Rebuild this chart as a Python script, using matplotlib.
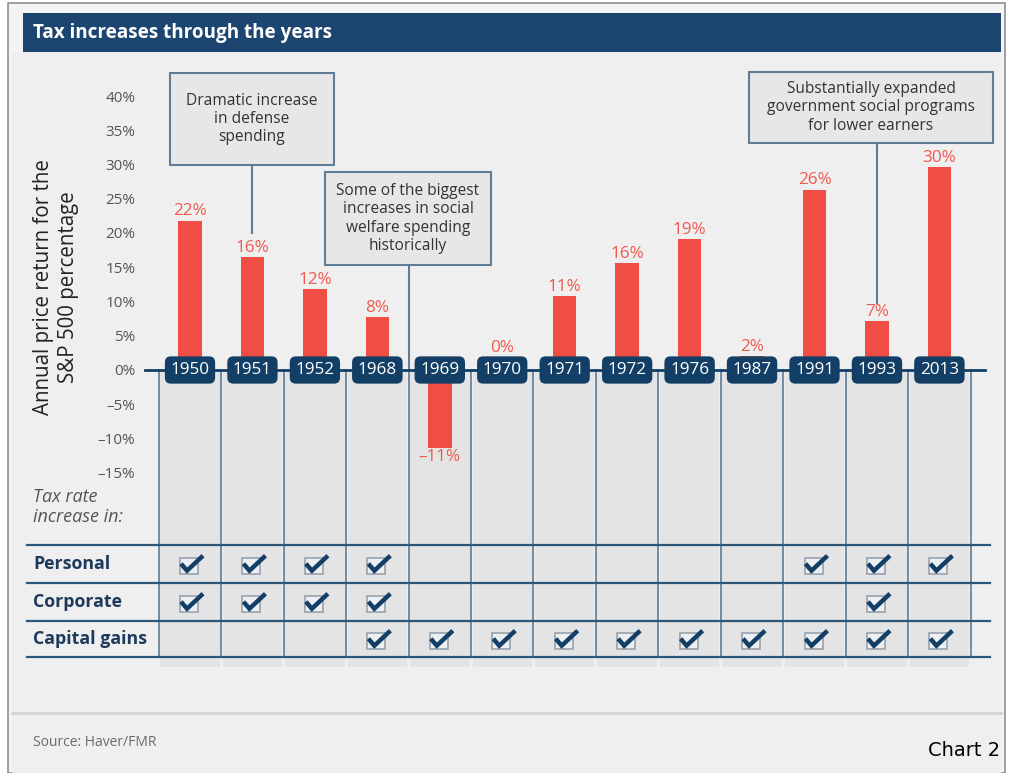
# Tax increases through the years - S&P 500 returns and tax rate changes

import matplotlib.pyplot as plt
from matplotlib.patches import Rectangle

plt.rcParams['font.family'] = ['Open Sans', 'DejaVu Sans']

# data
years = ["1950", "1951", "1952", "1968", "1969", "1970", "1971",
         "1972", "1976", "1987", "1991", "1993", "2013"]
returns = [21.8, 16.5, 11.8, 7.7, -11.4, 0.1, 10.8, 15.6, 19.1, 2.0, 26.3, 7.1, 29.6]
return_labels = ["22%", "16%", "12%", "8%", "\u201311%", "0%", "11%",
                 "16%", "19%", "2%", "26%", "7%", "30%"]
yticks = [-15, -10, -5, 0, 5, 10, 15, 20, 25, 30, 35, 40]
row_names = ["Personal", "Corporate", "Capital gains"]
personal = [1, 1, 1, 1, 0, 0, 0, 0, 0, 0, 1, 1, 1]
corporate = [1, 1, 1, 1, 0, 0, 0, 0, 0, 0, 0, 1, 0]
capital_gains = [0, 0, 0, 1, 1, 1, 1, 1, 1, 1, 1, 1, 1]

# colours
navy = "#133f66"
header_blue = "#1c4570"
red = "#f04e45"
red_text = "#ef5a4f"
slate = "#5f7d98"
grid_line = "#2b5679"
col_gray = "#e4e4e4"
panel = "#efefef"

# size of one pixel in data units (x: column index, y: percent)
PX = 1 / 62.45
PY = 1 / 6.85

fig = plt.figure(figsize=(10.13, 7.73), dpi=100)
fig.patch.set_facecolor("white")

# outer frame, panel, header, footer (kept behind the axes)
fig.patches.append(Rectangle((8 / 1013, 0), 997 / 1013, 1 - 3 / 773, transform=fig.transFigure,
                             fc="#f4f4f4", ec="#8f8f8f", lw=1.2, zorder=-10))
fig.patches.append(Rectangle((12 / 1013, 0), 989 / 1013, 1 - 52 / 773, transform=fig.transFigure,
                             fc=panel, ec="none", zorder=-9))
fig.patches.append(Rectangle((23 / 1013, 1 - 52 / 773), 978 / 1013, 39 / 773, transform=fig.transFigure,
                             fc=header_blue, ec="none", zorder=-9))
fig.text(33 / 1013, 1 - 33 / 773, "Tax increases through the years", color="white",
         fontsize=13.6, fontweight="bold", va="center")
fig.lines.append(plt.Line2D([12 / 1013, 1001 / 1013], [1 - 713 / 773, 1 - 713 / 773],
                            transform=fig.transFigure, color="#d2d2d2", lw=2, zorder=-8))
fig.text(33 / 1013, 1 - 742 / 773, "Source: Haver/FMR", color="#6a6a6a", fontsize=10, va="center")
fig.text(1000 / 1013, 1 - 751 / 773, "Chart 2", color="black", fontsize=14, ha="right", va="center",
         family=["Liberation Sans Narrow", "DejaVu Sans"])

ax = fig.add_axes([145 / 1013, 73 / 773, 856 / 1013, 640 / 773])
ax.set_facecolor("none")
for s in ax.spines.values():
    s.set_visible(False)
n = len(years)
x = list(range(n))
ax.set_xlim(-45 * PX, 811 * PX)
ax.set_ylim(-(700 - 370) * PY, (370 - 60) * PY)

# table geometry (percent units)
table_lines = [-25.5, -31.05, -36.6, -41.85]
col_bottom = -43.4

# column backgrounds and separators
for i in x:
    ax.add_patch(Rectangle((i - 0.5 + 1.5 * PX, col_bottom), 1 - 3 * PX, -col_bottom,
                           fc=col_gray, ec="none", zorder=1))
for i in range(n + 1):
    ax.plot([i - 0.5, i - 0.5], [0, table_lines[-1]], color="#6f8ba4", lw=1.4, zorder=2)
for yl in table_lines:
    ax.plot([-163 * PX, 800 * PX], [yl, yl], color=grid_line, lw=1.6, zorder=2, clip_on=False)

# bars
ax.bar(x, returns, width=0.375, color=red, zorder=3)
box_top = 13 * PY
for i, (v, lab) in enumerate(zip(returns, return_labels)):
    if v >= 0:
        ax.annotate(lab, (i, max(v, box_top)), xytext=(0, 1), textcoords="offset points",
                    ha="center", va="bottom", color=red_text, fontsize=12.3, zorder=4)
    else:
        ax.annotate(lab, (i, v), xytext=(0, -1), textcoords="offset points", ha="center",
                    va="top", color=red_text, fontsize=12.3, zorder=4)

# zero line and year markers
ax.plot([-45 * PX, 795 * PX], [0, 0], color=navy, lw=2, zorder=4, clip_on=False)
for i, yr in enumerate(years):
    ax.text(i, 0, yr, ha="center", va="center", color="white", fontsize=12.3, zorder=6,
            bbox=dict(boxstyle="round,pad=0.33,rounding_size=0.35", fc=navy, ec="none"))

# y axis
ax.set_yticks(yticks)
ax.set_yticklabels([f"{t}%".replace("-", "\u2013") for t in yticks])
ax.tick_params(axis="y", length=0, pad=7, labelsize=11, labelcolor="#555555")
ax.set_xticks([])
ax.set_ylabel("Annual price return for the\nS&P 500 percentage", fontsize=14.8, color="#222222",
              va="center", linespacing=1.3)
ax.yaxis.set_label_coords(-0.104, 0.645)

# annotation boxes with leader lines
notes = [
    ("Dramatic increase\nin defense\nspending", (170, 334, 73, 165), 1, 20.0),
    ("Some of the biggest\nincreases in social\nwelfare spending\nhistorically", (325, 491, 172, 265), 3.5, 0),
    ("Substantially expanded\ngovernment social programs\nfor lower earners", (749, 993, 72, 143), 11, 9.8),
]
for txt, (l, r, t, b), lx, ly in notes:
    x0 = (l - 190) * PX
    x1 = (r - 190) * PX
    y0 = (370 - b) * PY
    y1 = (370 - t) * PY
    ax.add_patch(Rectangle((x0, y0), x1 - x0, y1 - y0, fc="#e7e7e7", ec=slate, lw=1.5,
                           zorder=5, clip_on=False))
    ax.text((x0 + x1) / 2, (y0 + y1) / 2, txt, ha="center", va="center", fontsize=11.2,
            color="#333333", linespacing=1.2, zorder=6)
    ax.plot([lx, lx], [y0, ly], color=slate, lw=1.5, zorder=3)

# row labels
ax.text(-157 * PX, -20.0, "Tax rate\nincrease in:", ha="left", va="center", fontsize=13,
        style="italic", color="#555555", linespacing=1.2, clip_on=False)
row_centers = [(table_lines[k] + table_lines[k + 1]) / 2 for k in range(3)]
for name, yc in zip(row_names, row_centers):
    ax.text(-157 * PX, yc, name, ha="left", va="center", fontsize=12.8, fontweight="bold",
            color="#1d3a5c", clip_on=False)

# check boxes
for flags, yc in zip([personal, corporate, capital_gains], row_centers):
    for i, f in enumerate(flags):
        if not f:
            continue
        bx = i - 1 * PX
        by = yc - 2 * PY
        ax.add_patch(Rectangle((bx - 9 * PX, by - 8 * PY), 18 * PX, 16 * PY, fc="#edf0f3",
                               ec="#98a3ad", lw=1.2, zorder=5))
        ax.plot([i - 9 * PX, i - 3 * PX, i + 13 * PX],
                [yc + 0 * PY, yc - 7 * PY, yc + 8 * PY],
                color=navy, lw=3.2, solid_capstyle="butt", solid_joinstyle="miter", zorder=6)

fig.savefig("out.png", dpi=100)
